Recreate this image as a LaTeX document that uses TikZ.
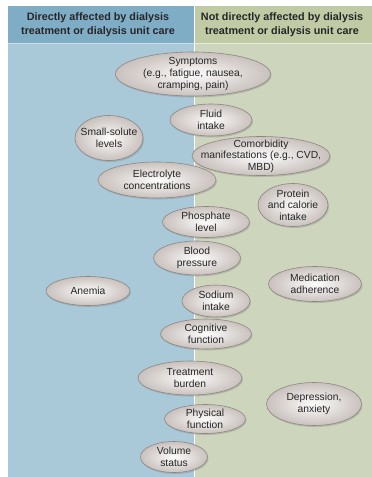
\documentclass[tikz,border=0pt]{standalone}
\usepackage{fontspec}
\setmainfont{Liberation Sans}
\usetikzlibrary{shapes.geometric,shadows}

\definecolor{lefthead}{HTML}{80ADC6}
\definecolor{leftbody}{HTML}{A9C9D8}
\definecolor{righthead}{HTML}{C0CAA4}
\definecolor{rightbody}{HTML}{CDD6BC}
\definecolor{bubedge}{HTML}{8E8682}
\definecolor{bubout}{HTML}{C9C1BD}

\begin{document}
\begin{tikzpicture}[x=1pt,y=-1pt,
    bub/.style 2 args = {
      ellipse,
      draw = bubedge,
      line width = 0.6pt,
      shading = radial,
      inner color = white!96!bubout,
      outer color = bubout,
      drop shadow = {opacity=0.35, shadow xshift=1pt, shadow yshift=-1.5pt},
      inner sep = 0pt,
      minimum width = #1,
      minimum height = #2
    },
    txt/.style = {
      align = center,
      inner sep = 0pt,
      text = black!85,
      font = \fontsize{10.3}{11.6}\selectfont
    },
    head/.style = {
      align = center,
      text = black!85,
      font = \fontsize{10.8}{14}\selectfont\bfseries
    }
  ]
  \useasboundingbox (0,0) rectangle (372,477);

  % panels
  \fill[leftbody] (8,6) rectangle (194,477);
  \fill[rightbody] (194,6) rectangle (372,477);
  \fill[lefthead] (8,6) rectangle (194,43);
  \fill[righthead] (194,6) rectangle (372,43);
  \draw[white!60!lefthead, line width=0.6pt] (8,43) -- (194,43);
  \draw[white!60!righthead, line width=0.6pt] (194,43) -- (372,43);
  \draw[white, line width=0.8pt] (194,6) -- (194,477);

  \node[head] (lhead) at (98,24.5) {Directly affected by dialysis\\treatment or dialysis unit care};
  \node[head] (rhead) at (282,24.5) {Not directly affected by dialysis\\treatment or dialysis unit care};

  % bubbles
  \node[bub={155}{44}, label={[txt]center:{Symptoms\\(e.g., fatigue, nausea,\\cramping, pain)}}] (symp) at (193,74) {};
  \node[bub={82}{32}, label={[txt]center:{Fluid\\intake}}] (fluid) at (211,120) {};
  \node[bub={68}{45}, label={[txt]center:{Small-solute\\levels}}] (solute) at (109,138) {};
  \node[bub={138}{39}, label={[txt]center:{Comorbidity\\manifestations (e.g., CVD,\\MBD)}}] (comorb) at (261,156) {};
  \node[bub={118}{36}, label={[txt]center:{Electrolyte\\concentrations}}] (electro) at (157,180) {};
  \node[bub={70}{43}, label={[txt]center:{Protein\\and calorie\\intake}}] (protein) at (293,205) {};
  \node[bub={87}{31}, label={[txt]center:{Phosphate\\level}}] (phos) at (206,222) {};
  \node[bub={87}{34}, label={[txt]center:{Blood\\pressure}}] (blood) at (197,258) {};
  \node[bub={84}{29}, label={[txt]center:{Anemia}}] (anemia) at (88,291) {};
  \node[bub={93}{35}, label={[txt]center:{Medication\\adherence}}] (medic) at (315,284) {};
  \node[bub={68}{32}, label={[txt]center:{Sodium\\intake}}] (sodium) at (216,301) {};
  \node[bub={91}{30}, label={[txt]center:{Cognitive\\function}}] (cogn) at (206,334) {};
  \node[bub={104}{34}, label={[txt]center:{Treatment\\burden}}] (burden) at (190,378) {};
  \node[bub={95}{43}, label={[txt]center:{Depression,\\anxiety}}] (depress) at (314,404) {};
  \node[bub={81}{29}, label={[txt]center:{Physical\\function}}] (phys) at (205,419) {};
  \node[bub={67}{31}, label={[txt]center:{Volume\\status}}] (volume) at (174,457) {};
\end{tikzpicture}
\end{document}
